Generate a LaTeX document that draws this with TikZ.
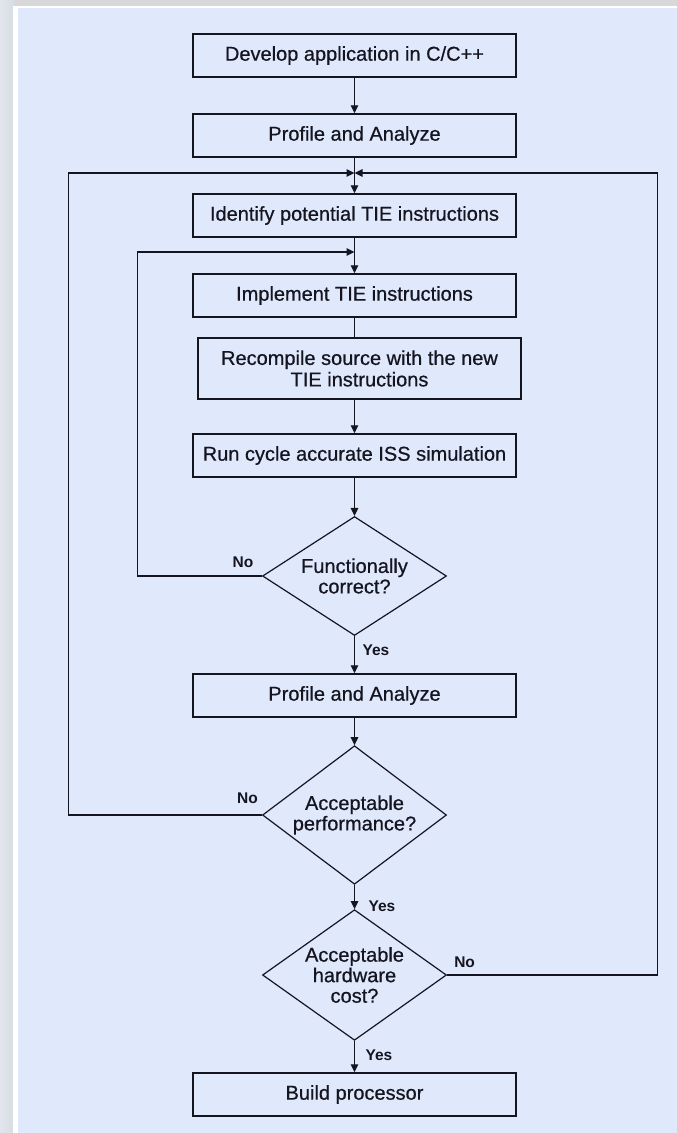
\documentclass[tikz,border=0pt]{standalone}
\usepackage{fontspec}
\setmainfont{Liberation Sans}
\newfontfamily\boxfont{Liberation Sans}[FakeBold=0.6]
\usepackage{tikz}
\usetikzlibrary{shapes.geometric, calc, arrows.meta}
\definecolor{panelblue}{HTML}{E0E8FC}
\definecolor{sidegray}{HTML}{D6DCE4}
\definecolor{topgray}{HTML}{D8D8DA}
\definecolor{inkdark}{HTML}{151520}
\tikzset{
	myblock/.style={rectangle, draw=inkdark, line width=1.5pt, minimum width=323pt, minimum height=43pt,
				inner sep=0pt, text centered, align=center, text=inkdark,
				font=\boxfont\fontsize{20}{21.5}\selectfont
				},
	mydecision/.style={diamond, draw=inkdark, line width=1.2pt, minimum width=184pt, minimum height=119pt,
				inner sep=-6pt, text centered, align=center, text=inkdark,
				font=\boxfont\fontsize{20}{20.5}\selectfont
				},
	myarrow/.style={-{Triangle[length=8pt, width=7.5pt]}, inkdark, line width=1.4pt
				},
	myline/.style={inkdark, line width=1.4pt
				},
	mylabel/.style={inner sep=0pt, text=inkdark, font=\fontsize{15.5}{15.5}\selectfont\bfseries
				}
	}

\begin{document}
\begin{tikzpicture}[x=1pt, y=-1pt]

				% background and panel
				\useasboundingbox (0,0) rectangle (677,1133);
				\fill[topgray] (0,0) rectangle (677,1133);
				\fill[left color=sidegray!70!white, right color=sidegray] (0,0) rectangle (14,1133);
				\fill[white] (13,6) rectangle (677,1133);
				\fill[panelblue] (17.5,7.5) rectangle (677,1133);

				\node[myblock] (develop) at (354.5, 55.5) {Develop application in C/C++};
				
				\node[myblock] (profileA) at ($(develop) + (0, 80)$) {Profile and Analyze};
				
				\coordinate (loopjoin) at ($(profileA) + (0, 37.5)$);
				
				\node[myblock] (identify) at ($(profileA) + (0, 80)$) {Identify potential TIE instructions};
				
				\coordinate (innerjoin) at ($(identify) + (0, 36.5)$);
				
				\node[myblock] (implement) at ($(identify) + (0, 80)$) {Implement TIE instructions};
				
				\node[myblock, minimum height=61pt] (recompile) at ($(implement) + (5, 73)$) 
				{Recompile source with the new\\TIE instructions};
				
				\node[myblock] (runiss) at ($(implement) + (0, 160)$) {Run cycle accurate ISS simulation};
				
				\node[mydecision] (functional) at ($(runiss) + (0, 120.5)$) {Functionally\\correct?};
				
				\node[myblock] (profileB) at ($(runiss) + (0, 240)$) {Profile and Analyze};
				
				\node[mydecision] (performance) at ($(profileB) + (0, 119.5)$) {Acceptable\\performance?};
				
				\node[mydecision] (hwcost) at ($(performance) + (0, 160)$) {Acceptable\\hardware\\cost?};
				
				\node[myblock] (build) at ($(hwcost) + (0, 119.5)$) {Build processor};
				
				% yes / no labels
				\node[mylabel] (noA) at ($(functional.west) + (-19, -14)$) {No};
				\node[mylabel] (yesA) at ($(functional.south) + (21.5, 14.5)$) {Yes};
				\node[mylabel] (noB) at ($(performance.west) + (-14.5, -17)$) {No};
				\node[mylabel] (yesB) at ($(performance.south) + (27.5, 21)$) {Yes};
				\node[mylabel] (noC) at ($(hwcost.east) + (17.5, -13)$) {No};
				\node[mylabel] (yesC) at ($(hwcost.south) + (24.5, 14.5)$) {Yes};
				
				% main flow
				\draw[myarrow] (develop) -- (profileA);
				\draw[myarrow] (profileA) -- (identify);
				\draw[myarrow] (identify) -- (implement);
				\draw[myline] (implement.south) -- (implement.south |- recompile.north);
				\draw[myarrow] (recompile.south -| runiss.north) -- (runiss.north);
				\draw[myarrow] (runiss) -- (functional);
				\draw[myarrow] (functional) -- (profileB);
				\draw[myarrow] (profileB) -- (performance);
				\draw[myarrow] (performance) -- (hwcost);
				\draw[myarrow] (hwcost) -- (build);
				
				% loops back
				\draw[myarrow] (functional.west) -- ++(-124.5, 0) |- (innerjoin);
				\draw[myarrow] (performance.west) -- ++(-193.5, 0) |- (loopjoin);
				\draw[myarrow] (hwcost.east) -- ++(210.5, 0) |- (loopjoin);

\end{tikzpicture}
\end{document}
